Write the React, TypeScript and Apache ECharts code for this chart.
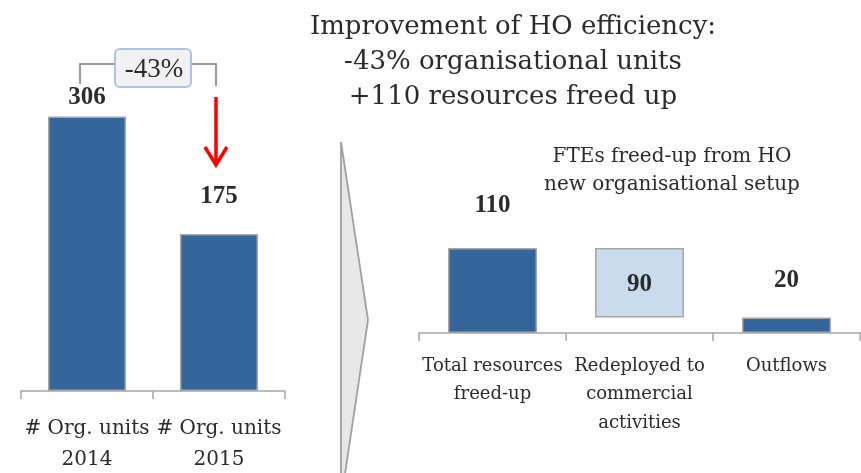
import React, { useEffect, useRef } from "react";
import * as echarts from "echarts";

const leftCategories = ["# Org. units\n2014", "# Org. units\n2015"];
const leftValues = [306, 175];
const changeLabel = "-43%";
const rightCategories = ["Total resources\nfreed-up", "Redeployed to\ncommercial\nactivities", "Outflows"];
const rightValues = [110, 90, 20];
const rightBase = [0, 20, 0];
const titleLines = ["Improvement of HO efficiency:", "-43% organisational units", "+110 resources freed up"];
const subtitleLines = ["FTEs freed-up from HO", "new organisational setup"];

const DARK = "#34659b";
const LIGHT = "#c9dcee";
const BORDER = "#a6a6a6";
const TEXT = "#2b2b2b";
const SERIF = "DejaVu Serif";
const NUM = "Liberation Serif";

export default function App() {
  const ref = useRef<HTMLDivElement>(null);
  useEffect(() => {
    const chart = echarts.init(ref.current!, null, { renderer: "svg" });
    const axisCommon = {
      type: "category" as const,
      axisLine: { lineStyle: { color: BORDER, width: 1.5 } },
      axisTick: { show: true, length: 8, lineStyle: { color: BORDER, width: 1.5 } },
    };
    const numLabel = { color: TEXT, fontFamily: NUM, fontWeight: "bold" as const, fontSize: 25 };
    chart.setOption({
      animation: false,
      grid: [
        { left: 21, right: 861 - 285, top: 77, bottom: 81 },
        { left: 419, right: 1, top: 217, bottom: 140 },
      ],
      xAxis: [
        {
          ...axisCommon,
          gridIndex: 0,
          data: leftCategories,
          axisLabel: { color: TEXT, fontFamily: SERIF, fontSize: 20, lineHeight: 31, margin: 20, interval: 0 },
        },
        {
          ...axisCommon,
          gridIndex: 1,
          data: rightCategories,
          axisLabel: { color: TEXT, fontFamily: SERIF, fontSize: 18, lineHeight: 28.5, margin: 17, interval: 0, verticalAlign: "top" },
        },
      ],
      yAxis: [
        { type: "value", gridIndex: 0, min: 0, max: 350, show: false },
        { type: "value", gridIndex: 1, min: 0, max: 150, show: false },
      ],
      series: [
        {
          type: "bar",
          xAxisIndex: 0,
          yAxisIndex: 0,
          data: leftValues.map((v, i) => ({ value: v, label: { distance: i === 0 ? 8 : 27 } })),
          barWidth: 78,
          itemStyle: { color: DARK, borderColor: BORDER, borderWidth: 1.5 },
          label: { show: true, position: "top", ...numLabel },
        },
        {
          type: "bar",
          xAxisIndex: 1,
          yAxisIndex: 1,
          stack: "w",
          data: rightBase,
          barWidth: 89,
          itemStyle: { color: "transparent" },
          silent: true,
        },
        {
          type: "bar",
          xAxisIndex: 1,
          yAxisIndex: 1,
          stack: "w",
          barWidth: 89,
          data: rightValues.map((v, i) =>
            i === 1
              ? { value: v, itemStyle: { color: LIGHT }, label: { position: "inside" } }
              : { value: v, label: { distance: i === 0 ? 32 : 27 } }
          ),
          itemStyle: { color: DARK, borderColor: BORDER, borderWidth: 1.5 },
          label: { show: true, position: "top", ...numLabel },
        },
      ],
      graphic: [
        {
          type: "text",
          x: 513,
          y: 7,
          style: {
            text: titleLines.join("\n"),
            fontFamily: SERIF,
            fontSize: 26,
            lineHeight: 35,
            fill: TEXT,
            align: "center",
            verticalAlign: "top",
          },
        },
        {
          type: "text",
          x: 672,
          y: 141,
          style: {
            text: subtitleLines.join("\n"),
            fontFamily: SERIF,
            fontSize: 20,
            lineHeight: 28,
            fill: TEXT,
            align: "center",
            verticalAlign: "top",
          },
        },
        {
          type: "polyline",
          shape: { points: [[80, 84], [80, 64], [115, 64]] },
          style: { stroke: "#9a9a9a", lineWidth: 2, fill: null },
        },
        {
          type: "polyline",
          shape: { points: [[191, 64], [216, 64], [216, 86]] },
          style: { stroke: "#9a9a9a", lineWidth: 2, fill: null },
        },
        {
          type: "rect",
          shape: { x: 115, y: 49, width: 76, height: 38, r: 5 },
          style: { fill: "#f2f2f2", stroke: "#a9c4e4", lineWidth: 2 },
        },
        {
          type: "text",
          x: 154,
          y: 68,
          style: {
            text: changeLabel,
            fontFamily: NUM,
            fontSize: 27,
            fill: TEXT,
            align: "center",
            verticalAlign: "middle",
          },
        },
        {
          type: "line",
          shape: { x1: 216, y1: 97, x2: 216, y2: 164 },
          style: { stroke: "#ff0000", lineWidth: 3.5 },
        },
        {
          type: "polyline",
          shape: { points: [[205, 147], [216, 165], [227, 147]] },
          style: { stroke: "#ff0000", lineWidth: 3.5, fill: null },
        },
        {
          type: "polygon",
          shape: { points: [[341, 142], [368, 320], [345, 474], [341, 474]] },
          style: { fill: "#e8e8e8", stroke: "#a0a0a0", lineWidth: 1.8 },
        },
      ],
    });
    return () => chart.dispose();
  }, []);
  return <div ref={ref} style={{ position: "fixed", left: 0, top: 0, width: 861, height: 473 }} />;
}
